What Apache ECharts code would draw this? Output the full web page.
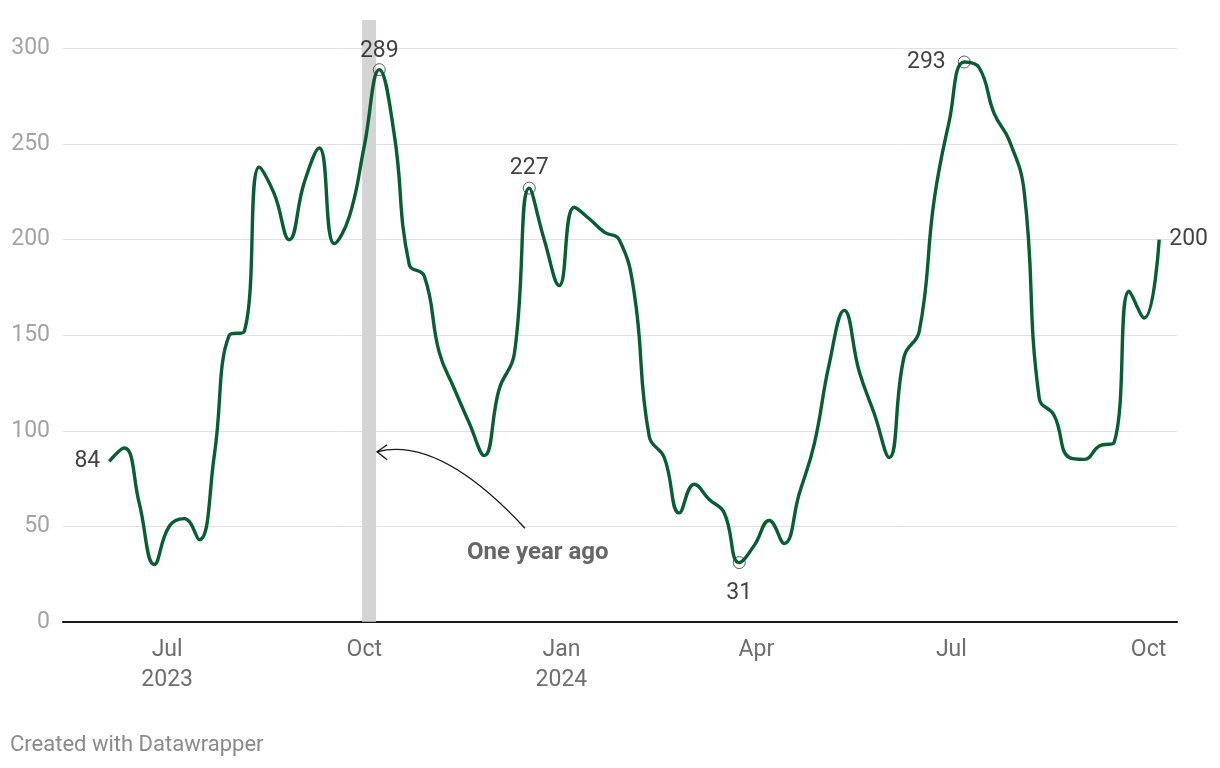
<!DOCTYPE html>
<html>
<head>
<meta charset="utf-8">
<script src="https://cdn.jsdelivr.net/npm/echarts@6/dist/echarts.min.js"></script>
<style>
html,body{margin:0;padding:0;background:#fff;}
#chart{width:1220px;height:768px;}
</style>
</head>
<body>
<div id="chart"></div>
<script>
// ---- data ----
var dates = [
  '2023-06-04','2023-06-11','2023-06-18','2023-06-25',
  '2023-07-02','2023-07-09','2023-07-16','2023-07-23','2023-07-30',
  '2023-08-06','2023-08-13','2023-08-20','2023-08-27',
  '2023-09-03','2023-09-10','2023-09-17','2023-09-24',
  '2023-10-01','2023-10-08','2023-10-15','2023-10-22','2023-10-29',
  '2023-11-05','2023-11-12','2023-11-19','2023-11-26',
  '2023-12-03','2023-12-10','2023-12-17','2023-12-24','2023-12-31',
  '2024-01-07','2024-01-14','2024-01-21','2024-01-28',
  '2024-02-04','2024-02-11','2024-02-18','2024-02-25',
  '2024-03-03','2024-03-10','2024-03-17','2024-03-24','2024-03-31',
  '2024-04-07','2024-04-14','2024-04-21','2024-04-28',
  '2024-05-05','2024-05-12','2024-05-19','2024-05-26',
  '2024-06-02','2024-06-09','2024-06-16','2024-06-23','2024-06-30',
  '2024-07-07','2024-07-14','2024-07-21','2024-07-28',
  '2024-08-04','2024-08-11','2024-08-18','2024-08-25',
  '2024-09-01','2024-09-08','2024-09-15','2024-09-22','2024-09-29',
  '2024-10-06'
];
var values = [
  84, 91, 62, 30,
  50, 54, 43, 87, 150,
  152, 238, 224, 200,
  230, 248, 198, 212,
  249, 289, 255, 187, 181,
  141, 122, 104, 87,
  122, 140, 227, 200, 176,
  217, 211, 204, 200,
  172, 97, 86, 57,
  72, 64, 57, 31, 40,
  53, 41, 67, 93,
  135, 163, 131, 109,
  86, 139, 152, 221, 262,
  293, 290, 266, 252,
  225, 117, 108, 86,
  85, 92, 94, 173, 159,
  200
];
var yTicks = [0, 50, 100, 150, 200, 250, 300];
var xTickDates = ['2023-07-01','2023-10-01','2024-01-01','2024-04-01','2024-07-01','2024-10-01'];
var monthNames = ['Jan','Feb','Mar','Apr','May','Jun','Jul','Aug','Sep','Oct','Nov','Dec'];
var highlightRange = ['2023-09-30', '2023-10-06 12:00'];
var highlightText = 'One year ago';
var creditText = 'Created with Datawrapper';

// annotated points: index into data, label placement
var annotated = [
  {i: 0,  pos: 'left',   dist: 9,  marker: false},
  {i: 18, pos: 'top',    dist: 0,  marker: true},
  {i: 28, pos: 'top',    dist: 2,  marker: true},
  {i: 42, pos: 'bottom', dist: 13, marker: true},
  {i: 57, pos: 'left',   dist: 12, marker: true},
  {i: 70, pos: 'right',  dist: 10, marker: false}
];

// ---- build ----
function ts(s){ var p = s.split(/[- :]/); return Date.UTC(+p[0], +p[1]-1, +p[2], p[3]?+p[3]:0, p[4]?+p[4]:0); }
var DAY = 86400000;
var first = ts(dates[0]), last = ts(dates[dates.length-1]);
var xMin = first - 21.6 * DAY;
var xMax = last + 8.3 * DAY;

var lineData = dates.map(function(d, k){ return [ts(d), values[k]]; });
var annData = annotated.map(function(a){
  return {
    value: [ts(dates[a.i]), values[a.i]],
    symbolSize: a.marker ? 12 : 0,
    label: {show: true, position: a.pos, distance: a.dist, formatter: String(values[a.i])}
  };
});
var xTickTs = xTickDates.map(ts);

var chart = echarts.init(document.getElementById('chart'), null, {renderer: 'canvas'});
var font = 'Roboto, "Noto Sans", sans-serif';
chart.setOption({
  animation: false,
  backgroundColor: '#ffffff',
  textStyle: {fontFamily: font},
  grid: {left: 63, right: 43, top: 20, bottom: 146.2, containLabel: false},
  xAxis: {
    type: 'value',
    min: xMin, max: xMax,
    axisLine: {show: true, onZero: false, lineStyle: {color: '#1a1a1a', width: 2}},
    axisTick: {show: false},
    splitLine: {show: false},
    axisLabel: {
      customValues: xTickTs,
      color: '#6e6e6e', fontSize: 23, lineHeight: 30, margin: 13,
      fontFamily: font,
      formatter: function(v){
        var d = new Date(v);
        var m = monthNames[d.getUTCMonth()];
        if (d.getUTCMonth() === 0 || Math.abs(v - xTickTs[0]) < DAY) return m + '\n' + d.getUTCFullYear();
        return m;
      }
    }
  },
  yAxis: {
    type: 'value',
    min: 0, max: 315, interval: 50,
    axisLine: {show: false},
    axisTick: {show: false},
    splitLine: {show: true, showMaxLine: false, showMinLine: false, lineStyle: {color: '#e2e2e2', width: 1}},
    axisLabel: {
      color: '#a3a3a3', fontSize: 23, margin: 13, fontFamily: font,
      showMaxLabel: false,
      formatter: function(v){ return yTicks.indexOf(v) >= 0 ? String(v) : ''; }
    }
  },
  series: [
    {
      type: 'line',
      data: lineData,
      smooth: 0.45,
      showSymbol: false,
      symbol: 'none',
      lineStyle: {color: '#085e33', width: 3.4},
      clip: false,
      z: 3,
      markArea: {
        silent: true,
        itemStyle: {color: '#d4d4d4'},
        data: [[{xAxis: ts(highlightRange[0])}, {xAxis: ts(highlightRange[1])}]],
        z: 1
      }
    },
    {
      type: 'scatter',
      data: annData,
      symbol: 'circle',
      itemStyle: {color: 'rgba(255,255,255,0)', borderColor: '#333', borderWidth: 1},
      label: {color: '#111111', fontSize: 23, fontFamily: font},
      z: 5,
      silent: true
    }
  ]
});

// annotation arrow, placed in data space
var tip = chart.convertToPixel({xAxisIndex: 0, yAxisIndex: 0}, [ts('2023-10-07'), 89]);
var tail = chart.convertToPixel({xAxisIndex: 0, yAxisIndex: 0}, [ts('2023-12-15'), 49]);
var txt = chart.convertToPixel({xAxisIndex: 0, yAxisIndex: 0}, [ts('2023-12-21'), 36]);
var cp = [tip[0] + (tail[0]-tip[0]) * 0.42, tip[1] - 16];
chart.setOption({
  graphic: [
    {type: 'bezierCurve', shape: {x1: tail[0], y1: tail[1], x2: tip[0], y2: tip[1], cpx1: cp[0], cpy1: cp[1]},
     style: {stroke: '#1a1a1a', lineWidth: 1.4, fill: null}, z: 10},
    {type: 'polyline', shape: {points: [[tip[0]+10, tip[1]-7], [tip[0], tip[1]], [tip[0]+10, tip[1]+8]]},
     style: {stroke: '#1a1a1a', lineWidth: 1.4, fill: null}, z: 10},
    {type: 'text', x: txt[0], y: txt[1],
     style: {text: highlightText, fill: '#666666', font: 'bold 24px ' + font, textAlign: 'center', textVerticalAlign: 'middle'}, z: 10},
    {type: 'text', x: 10, y: 745,
     style: {text: creditText, fill: '#8a8a8a', font: '22px ' + font, textVerticalAlign: 'middle'}, z: 10}
  ]
});
</script>
</body>
</html>
